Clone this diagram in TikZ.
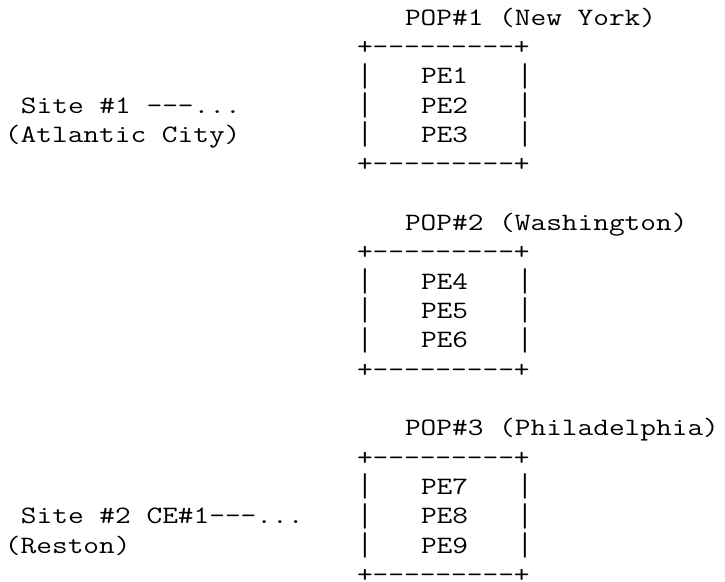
\documentclass[tikz,border=0pt]{standalone}
\newcommand\mytt[1]{\scalebox{1.219}[1]{\fontsize{25}{29}\selectfont\ttfamily #1}}
\newcommand\mybar{\raisebox{-2.5pt}{\scalebox{1.219}[1.32]{\fontsize{25}{29}\selectfont\ttfamily |}}}
\begin{document}
\begin{tikzpicture}[x=16pt,y=-29.333pt,
  txt/.style={anchor=base west, inner sep=0pt, outer sep=0pt}]
\useasboundingbox (-0.3125,-0.8523) rectangle (45,18.955);
% POP titles
\node[txt] (pop1) at (25,0)  {\mytt{POP\#1 (New York)}};
\node[txt] (pop2) at (25,7)  {\mytt{POP\#2 (Washington)}};
\node[txt] (pop3) at (25,14) {\mytt{POP\#3 (Philadelphia)}};
% boxes
\foreach \b/\s in {1/1,2/8,3/15}{
  \node[txt] (b\b top) at (22,\s) {\mytt{+-{}-{}-{}-{}-{}-{}-{}-{}-+}};
  \node[txt] (b\b bot) at (22,\s+4) {\mytt{+-{}-{}-{}-{}-{}-{}-{}-{}-+}};
  \foreach \i in {1,2,3}{
    \pgfmathtruncatemacro\pe{(\b-1)*3+\i}
    \node[txt] (b\b l\i) at (22,\s+\i) {\mybar};
    \node[txt] (pe\pe) at (26,\s+\i) {\mytt{PE\pe}};
    \node[txt] (b\b r\i) at (32,\s+\i) {\mybar};
  }
}
% sites
\node[txt] (site1) at (1,3)  {\mytt{Site \#1 -{}-{}-...}};
\node[txt] (city1) at (0,4)  {\mytt{(Atlantic City)}};
\node[txt] (site2) at (1,17) {\mytt{Site \#2 CE\#1-{}-{}-...}};
\node[txt] (city2) at (0,18) {\mytt{(Reston)}};
\end{tikzpicture}
\end{document}
